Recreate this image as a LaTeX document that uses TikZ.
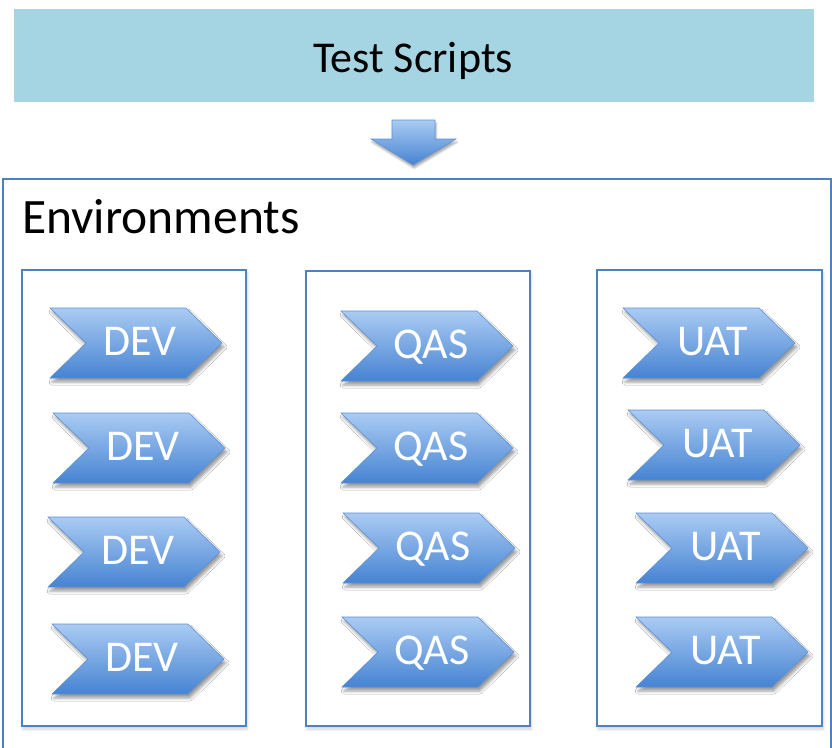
\documentclass[tikz,border=0pt]{standalone}
\usepackage{fontspec}
\setmainfont{Carlito}
\usetikzlibrary{shadows.blur}

\definecolor{scriptfill}{HTML}{A5D5E2}
\definecolor{frameblue}{HTML}{4F81BD}
\definecolor{chevtop}{HTML}{AACBF3}
\definecolor{chevbot}{HTML}{4683D2}
\definecolor{chevedge}{HTML}{5E91D2}

\tikzset{
  scriptbox/.style={fill=scriptfill, minimum width=800pt, minimum height=93pt, inner sep=0pt},
  scriptlabel/.style={inner sep=0pt, font=\fontsize{44}{52}\selectfont},
  envframe/.style={draw=frameblue, line width=1.5pt},
  colframe/.style={draw=frameblue, line width=1.3pt,
    blur shadow={shadow xshift=1pt, shadow yshift=-3pt, shadow blur radius=3pt, shadow opacity=18}},
  chevron/.style={top color=chevtop, bottom color=chevbot, draw=chevedge, line width=0.6pt,
    blur shadow={shadow xshift=2pt, shadow yshift=-4pt, shadow blur radius=3pt, shadow opacity=40}},
  chevlabel/.style={text=white, inner sep=0pt, font=\fontsize{44}{52}\selectfont},
  downarrow/.style={top color=chevtop, bottom color=chevbot, draw=chevedge, line width=0.6pt,
    blur shadow={shadow xshift=1pt, shadow yshift=-3pt, shadow blur radius=2pt, shadow opacity=35}},
}

% chevron: name, left x, top y, label
\newcommand\envchev[4]{%
  \path[chevron] (#2,#3) -- ++(136,0) -- ++(36,35) -- ++(-36,35) -- ++(-136,0) -- ++(36,-35) -- cycle;
  \node[chevlabel, anchor=base] (#1) at (#2+90,#3+47) {#4};
}

\begin{document}
\begin{tikzpicture}[x=1pt, y=-1pt]
  \useasboundingbox (0,0) rectangle (832,747);
  \clip (0,0) rectangle (832,747);

  % header
  \node[scriptbox] (scripts) at (414,55.5) {};
  \node[scriptlabel, anchor=base] (scriptstext) at (413,72) {Test Scripts};

  % down arrow
  \path[downarrow] (392,120) -- (435,120) -- (435,139) -- (456,139) -- (413,165)
    -- (371,139) -- (392,139) -- cycle;

  % environments frame
  \draw[envframe] (3,179) rectangle (831,752);
  \node[anchor=base west, inner sep=0pt, font=\fontsize{49.5}{58}\selectfont] (envtitle) at (22,233) {Environments};

  % columns
  \path[colframe, fill=white] (22,270) rectangle (246,726);
  \path[colframe, fill=white] (306,271) rectangle (530,726);
  \path[colframe, fill=white] (597,270) rectangle (822,726);

  % DEV column
  \envchev{dev1}{50}{308}{DEV}
  \envchev{dev2}{53}{413}{DEV}
  \envchev{dev3}{48}{517}{DEV}
  \envchev{dev4}{52}{624}{DEV}

  % QAS column
  \envchev{qas1}{341}{311}{QAS}
  \envchev{qas2}{341}{413}{QAS}
  \envchev{qas3}{343}{513}{QAS}
  \envchev{qas4}{342}{617}{QAS}

  % UAT column
  \envchev{uat1}{623}{308}{UAT}
  \envchev{uat2}{628}{410}{UAT}
  \envchev{uat3}{636}{513}{UAT}
  \envchev{uat4}{636}{617}{UAT}
\end{tikzpicture}
\end{document}
